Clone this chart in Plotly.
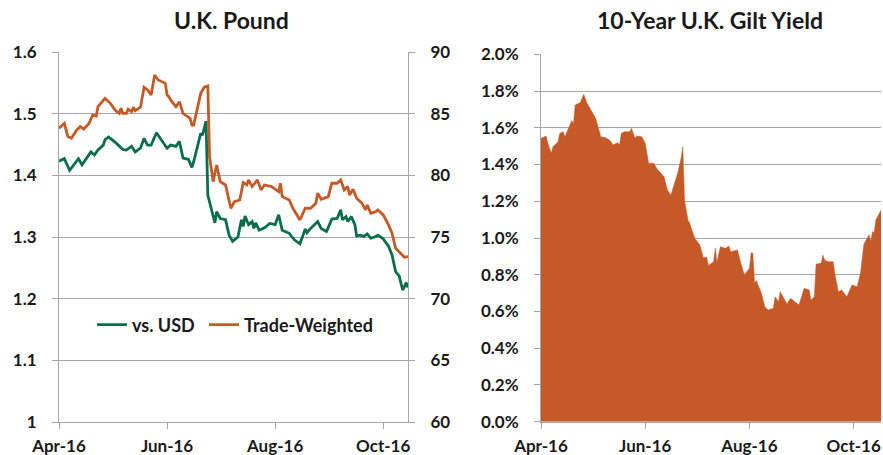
import pandas as pd
import plotly.graph_objects as go

# ---- data ----
# Day offsets counted from 2016-04-01
usd_days = [0, 3, 6, 11, 13, 18, 20, 22, 25, 26, 28, 32, 36, 38, 41, 43, 46, 48, 50, 52,
            55, 58, 61, 63, 66, 68, 70, 73, 75, 76, 80, 81, 83, 84, 86, 88, 89, 91, 94, 96,
            98, 100, 101, 103, 104, 105, 107, 109, 110, 111, 113, 116, 119, 122, 124, 126,
            130, 131, 133, 136, 139, 140, 142, 146, 148, 151, 154, 157, 159, 160, 162, 163,
            165, 167, 168, 170, 172, 174, 176, 179, 180, 183, 186, 188, 190, 192, 194, 196, 197]
usd_vals = [1.423, 1.427, 1.408, 1.427, 1.417, 1.438, 1.433, 1.441, 1.449, 1.458, 1.462, 1.453,
            1.442, 1.441, 1.447, 1.438, 1.444, 1.460, 1.449, 1.449, 1.469, 1.457, 1.444, 1.449,
            1.447, 1.455, 1.428, 1.426, 1.413, 1.422, 1.468, 1.465, 1.488, 1.368, 1.344, 1.323,
            1.341, 1.330, 1.328, 1.303, 1.293, 1.297, 1.300, 1.328, 1.317, 1.334, 1.320, 1.325,
            1.314, 1.323, 1.311, 1.315, 1.322, 1.320, 1.336, 1.311, 1.306, 1.302, 1.295, 1.289,
            1.313, 1.307, 1.314, 1.325, 1.314, 1.309, 1.329, 1.330, 1.344, 1.328, 1.333, 1.325,
            1.333, 1.320, 1.302, 1.303, 1.301, 1.305, 1.298, 1.301, 1.303, 1.297, 1.285, 1.271,
            1.244, 1.237, 1.214, 1.226, 1.218]

tw_days = [0, 3, 5, 7, 10, 12, 14, 17, 19, 21, 22, 26, 29, 32, 34, 35, 36, 38, 39, 41, 42,
           43, 46, 48, 50, 52, 54, 56, 60, 61, 62, 63, 66, 68, 70, 74, 75, 76, 80, 82, 84,
           85, 87, 89, 91, 94, 97, 99, 102, 104, 106, 107, 109, 112, 114, 116, 120, 124, 125,
           126, 130, 132, 136, 139, 142, 145, 146, 148, 152, 154, 157, 159, 161, 163, 164, 166,
           168, 171, 173, 174, 176, 179, 180, 183, 186, 188, 190, 192, 195, 197]
tw_vals = [83.82, 84.22, 83.14, 83.01, 83.68, 83.95, 83.74, 84.22, 84.89, 84.81, 85.57, 86.25,
           85.84, 85.24, 85.03, 85.44, 85.03, 85.03, 85.36, 85.16, 85.52, 85.24, 85.52, 87.14,
           86.92, 86.52, 88.14, 87.73, 87.46, 86.52, 86.38, 86.11, 85.57, 85.97, 85.03, 84.63,
           84.08, 84.08, 86.65, 87.14, 87.24, 81.52, 79.49, 80.84, 79.49, 79.22, 77.33, 77.87,
           78.00, 79.41, 79.22, 79.63, 79.09, 79.63, 78.82, 79.22, 79.09, 78.68, 79.36, 78.27,
           78.00, 77.33, 76.38, 77.33, 77.33, 77.74, 78.55, 78.06, 78.27, 79.36, 79.36, 79.63,
           78.82, 79.09, 78.41, 78.87, 78.14, 77.74, 77.20, 77.60, 76.93, 77.06, 77.20, 76.79,
           75.98, 75.31, 74.09, 73.82, 73.36, 73.41]

gilt_days = [0, 3, 4, 6, 7, 10, 11, 13, 14, 16, 18, 19, 20, 23, 25, 27, 32, 35, 38, 40, 41,
             42, 45, 46, 47, 49, 52, 53, 55, 56, 59, 61, 62, 63, 66, 68, 72, 74, 76, 80, 82,
             83, 84, 86, 87, 90, 93, 95, 97, 98, 101, 102, 103, 105, 108, 110, 111, 115, 117,
             119, 122, 123, 124, 125, 126, 129, 131, 133, 136, 137, 139, 140, 144, 146, 151,
             154, 157, 158, 160, 161, 164, 165, 166, 168, 171, 172, 174, 176, 179, 182, 185,
             187, 189, 192, 193, 194, 195, 196, 199]
gilt_vals = [1.543, 1.555, 1.516, 1.461, 1.497, 1.524, 1.570, 1.579, 1.551, 1.597, 1.639, 1.620,
             1.724, 1.737, 1.782, 1.733, 1.652, 1.551, 1.546, 1.533, 1.524, 1.506, 1.519, 1.506,
             1.570, 1.579, 1.579, 1.597, 1.543, 1.555, 1.551, 1.516, 1.461, 1.407, 1.407, 1.375,
             1.334, 1.261, 1.234, 1.352, 1.434, 1.497, 1.207, 1.098, 1.080, 0.998, 0.962, 0.892,
             0.895, 0.850, 0.871, 0.944, 0.871, 0.953, 0.944, 0.956, 0.925, 0.935, 0.862, 0.799,
             0.835, 0.920, 0.917, 0.753, 0.768, 0.699, 0.626, 0.608, 0.617, 0.680, 0.653, 0.708,
             0.641, 0.672, 0.635, 0.726, 0.717, 0.662, 0.680, 0.858, 0.862, 0.907, 0.880, 0.871,
             0.871, 0.804, 0.708, 0.717, 0.680, 0.744, 0.735, 0.808, 0.967, 1.016, 0.980, 1.034,
             1.030, 1.098, 1.152]

start = pd.Timestamp("2016-04-01")
to_dates = lambda d: [start + pd.Timedelta(days=int(x)) for x in d]

GREEN = "#0A6E4B"
ORANGE = "#C55A28"
GRID = "#A6A6A6"
FONT = "Lato"
TXT = "#1A1A1A"

fig = go.Figure()
fig.add_trace(go.Scatter(x=to_dates(usd_days), y=usd_vals, name="vs. USD", mode="lines",
                         line=dict(color=GREEN, width=2.8), xaxis="x", yaxis="y",
                         legend="legend"))
fig.add_trace(go.Scatter(x=to_dates(tw_days), y=tw_vals, name="Trade-Weighted", mode="lines",
                         line=dict(color=ORANGE, width=2.8), xaxis="x", yaxis="y2",
                         legend="legend2"))
fig.add_trace(go.Scatter(x=to_dates(gilt_days), y=gilt_vals, mode="lines", fill="tozeroy",
                         fillcolor=ORANGE, line=dict(color=ORANGE, width=0.5),
                         showlegend=False, xaxis="x2", yaxis="y3"))

tickfont = dict(family=FONT, size=17, color=TXT, weight="bold")
xcommon = dict(type="date", tickformat="%b-%y", dtick="M2", tick0="2016-04-01",
               ticks="outside", ticklen=6, tickcolor=GRID, showline=True, linecolor=GRID,
               linewidth=1, showgrid=False, tickfont=tickfont, zeroline=False,
               ticklabelstandoff=3, automargin=False)
legfont = dict(family=FONT, size=18, color=TXT, weight="bold")

fig.update_layout(
    template="none",
    width=883, height=455,
    margin=dict(l=0, r=0, t=0, b=0),
    paper_bgcolor="white", plot_bgcolor="white",
    font=dict(family=FONT, color=TXT),
    xaxis=dict(domain=[59/883, 408/883], anchor="y",
               range=["2016-04-01", "2016-10-15"], **xcommon),
    yaxis=dict(domain=[33/455, 403/455], range=[1.0, 1.6], dtick=0.1,
               showgrid=True, gridcolor=GRID, gridwidth=1, showline=True, linecolor=GRID,
               ticks="outside", ticklen=6, tickcolor=GRID, tickfont=tickfont,
               zeroline=False, ticklabelstandoff=12, automargin=False),
    yaxis2=dict(overlaying="y", side="right", anchor="x", range=[60, 90], dtick=5,
                showgrid=False, showline=True, linecolor=GRID, ticks="outside",
                ticklen=6, tickcolor=GRID, tickfont=tickfont, zeroline=False,
                ticklabelstandoff=12, automargin=False),
    xaxis2=dict(domain=[541/883, 881/883], anchor="y3",
                range=["2016-04-01", "2016-10-17"], **xcommon),
    yaxis3=dict(domain=[33.3/455, 400.7/455], anchor="x2", range=[0, 2.0], dtick=0.2,
                tickformat=".1f", ticksuffix="%", showgrid=True, gridcolor=GRID, gridwidth=1,
                showline=True, linecolor=GRID, ticks="outside", ticklen=6, tickcolor=GRID,
                tickfont=tickfont, zeroline=False, ticklabelstandoff=12, automargin=False),
    legend=dict(orientation="h", x=92/883, y=(455-325)/455, xanchor="left", yanchor="middle",
                font=legfont, bgcolor="rgba(0,0,0,0)", itemwidth=30),
    legend2=dict(orientation="h", x=204/883, y=(455-325)/455, xanchor="left",
                 yanchor="middle", font=legfont, bgcolor="rgba(0,0,0,0)", itemwidth=30),
    annotations=[
        dict(text="<b>U.K. Pound</b>", x=232/883, y=(455-20)/455, xref="paper", yref="paper",
             showarrow=False, font=dict(family=FONT, size=23, color=TXT),
             xanchor="center", yanchor="middle"),
        dict(text="<b>10-Year U.K. Gilt Yield</b>", x=710/883, y=(455-20)/455, xref="paper",
             yref="paper", showarrow=False, font=dict(family=FONT, size=23, color=TXT),
             xanchor="center", yanchor="middle"),
    ],
)

fig.write_html("out.html", config={"displayModeBar": False})
with open("out.html", encoding="utf-8") as f:
    html = f.read()
html = html.replace("<head>", "<head><style>html,body{margin:0;padding:0;}</style>", 1)
with open("out.html", "w", encoding="utf-8") as f:
    f.write(html)
